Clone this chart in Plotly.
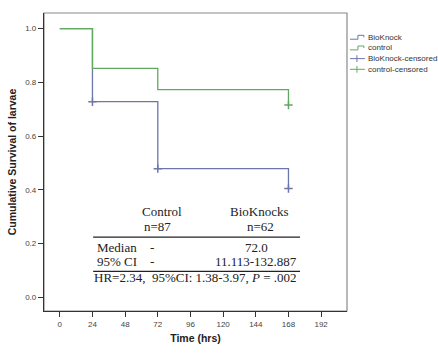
import plotly.graph_objects as go

# Kaplan-Meier step estimates (time in hrs, cumulative survival)
bioknock_time = [0, 24, 72, 168]
bioknock_surv = [1.0, 0.728, 0.479, 0.405]
control_time = [0, 24, 72, 168]
control_surv = [1.0, 0.852, 0.773, 0.716]

# censored observations
bioknock_cens_time = [24, 72, 168]
bioknock_cens_surv = [0.728, 0.479, 0.405]
control_cens_time = [168]
control_cens_surv = [0.716]

x_ticks = [0, 24, 48, 72, 96, 120, 144, 168, 192]
y_ticks = [0.0, 0.2, 0.4, 0.6, 0.8, 1.0]

legend_labels = ["BioKnock", "control", "BioKnock-censored", "control-censored"]

BLUE = "#6c76aa"
GREEN = "#62a862"

fig = go.Figure()
fig.add_trace(go.Scatter(x=bioknock_time, y=bioknock_surv, mode="lines",
                         line=dict(shape="hv", color=BLUE, width=1.3),
                         showlegend=False, hoverinfo="skip"))
fig.add_trace(go.Scatter(x=control_time, y=control_surv, mode="lines",
                         line=dict(shape="hv", color=GREEN, width=1.3),
                         showlegend=False, hoverinfo="skip"))
fig.add_trace(go.Scatter(x=bioknock_cens_time, y=bioknock_cens_surv, mode="markers",
                         marker=dict(symbol="cross-thin", size=6,
                                     line=dict(color=BLUE, width=1.5)),
                         showlegend=False, hoverinfo="skip"))
fig.add_trace(go.Scatter(x=control_cens_time, y=control_cens_surv, mode="markers",
                         marker=dict(symbol="cross-thin", size=6,
                                     line=dict(color=GREEN, width=1.5)),
                         showlegend=False, hoverinfo="skip"))

W, H = 438, 354
L, R, T, B = 42, 91, 13, 34
pw, ph = W - L - R, H - T - B


def px(x):
    return (x - L) / pw


def py(y):
    return (H - B - y) / ph


shapes = []
annotations = []

# outer frame (top/right lighter than the axes)
shapes.append(dict(type="rect", xref="paper", yref="paper", x0=0, x1=1, y0=0, y1=1,
                   line=dict(color="#8a8a8a", width=1.2), layer="below"))

# legend: step glyphs for survival lines, cross glyphs for censored marks
legend_colors = [BLUE, GREEN, BLUE, GREEN]
rows = [38, 49, 60, 71]
for i, (lab, col, yy) in enumerate(zip(legend_labels, legend_colors, rows)):
    if i < 2:
        path = (f"M {px(350)},{py(yy + 2)} L {px(358)},{py(yy + 2)} "
                f"L {px(358)},{py(yy - 2)} L {px(364)},{py(yy - 2)} L {px(364)},{py(yy)}")
        shapes.append(dict(type="path", xref="paper", yref="paper", path=path,
                           line=dict(color=col, width=1)))
    else:
        shapes.append(dict(type="line", xref="paper", yref="paper",
                           x0=px(350), x1=px(365), y0=py(yy), y1=py(yy),
                           line=dict(color=col, width=1)))
        shapes.append(dict(type="line", xref="paper", yref="paper",
                           x0=px(357), x1=px(357), y0=py(yy - 3.5), y1=py(yy + 3.5),
                           line=dict(color=col, width=1)))
    annotations.append(dict(xref="paper", yref="paper", x=px(366), y=py(yy),
                            text=lab, showarrow=False, xanchor="left", yanchor="middle",
                            font=dict(family="Liberation Sans, Arial", size=8, color="#333")))

# summary table inside the plot
serif = dict(family="Liberation Serif, Times New Roman", size=13, color="#222")
table_rule_color = "#222"
for yv in (0.224, 0.097):
    shapes.append(dict(type="line", xref="x", yref="y", x0=24.5, x1=176.5, y0=yv, y1=yv,
                       line=dict(color=table_rule_color, width=1.2)))

cells = [
    (75, 0.318, "Control", "center"),
    (72, 0.264, "n=87", "center"),
    (147, 0.318, "BioKnocks", "center"),
    (147.5, 0.264, "n=62", "center"),
    (25.5, 0.184, "Median", "left"),
    (64.5, 0.184, "-", "left"),
    (144.5, 0.184, "72.0", "center"),
    (25.5, 0.135, "95% CI", "left"),
    (64.5, 0.135, "-", "left"),
    (144, 0.135, "11.113-132.887", "center"),
    (24, 0.075, "HR=2.34,  95%CI: 1.38-3.97, <i>P</i> = .002", "left"),
]
for x, y, txt, anc in cells:
    annotations.append(dict(xref="x", yref="y", x=x, y=y, text=txt, showarrow=False,
                            xanchor=anc, yanchor="middle", font=serif))

tick_font = dict(family="Liberation Sans, Arial", size=8, color="#444")
title_font = dict(family="Liberation Sans, Arial", size=10.5, color="#222")

fig.update_layout(
    width=W, height=H,
    margin=dict(l=L, r=R, t=T, b=B, pad=0),
    paper_bgcolor="white", plot_bgcolor="white",
    showlegend=False,
    shapes=shapes, annotations=annotations,
    xaxis=dict(range=[-11.6, 211], tickvals=x_ticks, ticktext=[str(t) for t in x_ticks],
               showgrid=False, zeroline=False, showline=True, linecolor="#333", linewidth=1.2,
               ticks="outside", ticklen=5, tickcolor="#333", tickfont=tick_font,
               title=dict(text="<b>Time (hrs)</b>", font=title_font, standoff=6)),
    yaxis=dict(range=[-0.0505, 1.058], tickvals=y_ticks, ticktext=[f"{t:.1f}" for t in y_ticks],
               showgrid=False, zeroline=False, showline=True, linecolor="#333", linewidth=1.2,
               ticks="outside", ticklen=5, tickcolor="#333", tickfont=tick_font,
               title=dict(text="<b>Cumulative Survival of larvae</b>", font=title_font, standoff=6)),
)

fig.write_html("out.html")
